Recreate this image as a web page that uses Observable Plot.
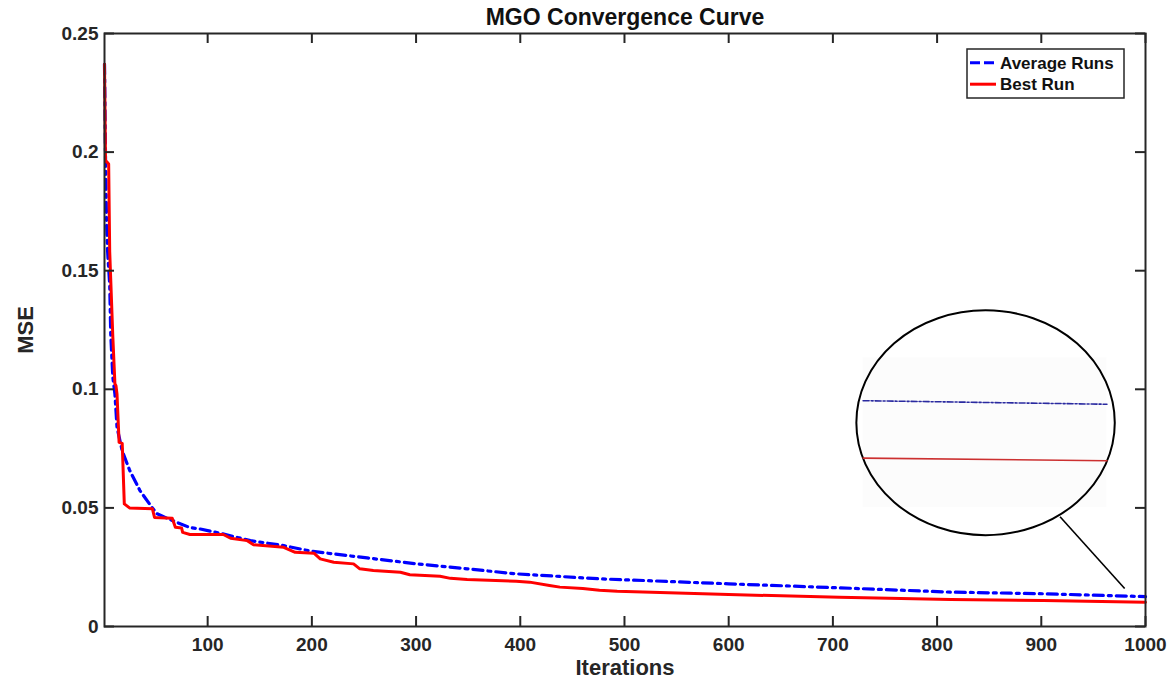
<!DOCTYPE html>
<html>
<head>
<meta charset="utf-8">
<script src="https://cdn.jsdelivr.net/npm/d3@7"></script>
<script src="https://cdn.jsdelivr.net/npm/@observablehq/plot@0.6"></script>
<style>
  body { margin: 0; background: #fff; }
  #chart svg { font-family: "Liberation Sans", Arial, Helvetica, sans-serif; }
</style>
</head>
<body>
<div id="chart"></div>
<script>
// ---- Text ----
const title = "MGO Convergence Curve";
const xLabel = "Iterations";
const yLabel = "MSE";
const seriesNames = ["Average Runs", "Best Run"];

// ---- Ticks ----
const xTicks = [100, 200, 300, 400, 500, 600, 700, 800, 900, 1000];
const yTicks = [0, 0.05, 0.1, 0.15, 0.2, 0.25];

// ---- Series: Average Runs (blue, dash-dot) ----
const avgX = [1, 2, 3, 4, 6, 7, 9, 11, 13, 18, 25, 35, 44, 51, 66, 83, 93, 112, 141, 173, 200, 253, 301, 349, 396, 476, 600, 706, 813, 902, 1000];
const avgY = [0.237, 0.197, 0.170, 0.158, 0.144, 0.123, 0.105, 0.098, 0.084, 0.074, 0.066, 0.0573, 0.0518, 0.0476, 0.0447, 0.0417, 0.0411, 0.0393, 0.0362, 0.0341, 0.0317, 0.0289, 0.0264, 0.0243, 0.0222, 0.0201, 0.0180, 0.0163, 0.0145, 0.0138, 0.0126];

// ---- Series: Best Run (red, solid) ----
const bestX = [1, 2, 3, 5, 6, 9, 11, 12, 13, 15, 18, 20, 25, 47, 49, 66, 69, 75, 76, 83, 115, 122, 138, 144, 173, 184, 202, 208, 221, 240, 246, 259, 285, 294, 323, 333, 349, 396, 409, 428, 438, 460, 476, 493, 600, 706, 813, 902, 1000];
const bestY = [0.237, 0.196, 0.196, 0.195, 0.158, 0.122, 0.1023, 0.1015, 0.098, 0.0776, 0.0772, 0.0517, 0.0500, 0.0496, 0.0460, 0.0456, 0.0418, 0.0415, 0.0397, 0.0388, 0.0388, 0.0372, 0.0362, 0.0345, 0.0334, 0.0313, 0.0309, 0.0285, 0.0271, 0.0264, 0.0243, 0.0236, 0.0229, 0.0218, 0.0212, 0.0203, 0.0198, 0.0191, 0.0187, 0.0173, 0.0166, 0.0160, 0.0153, 0.0149, 0.0135, 0.0123, 0.0114, 0.0110, 0.0102];

// ---- Zoom inset annotation (data coordinates) ----
const insetCenterX = 847, insetCenterY = 0.0857;
const insetRadiusX = 124, insetRadiusY = 0.0474;
const insetBoxX = [729, 963];
const insetBoxY = [0.0501, 0.1133];
const insetAvgY = [0.0952, 0.0937];
const insetBestY = [0.0710, 0.0699];
const connectorX = [918, 980];
const connectorY = [0.0463, 0.0160];

// ---- Build tables ----
const avgData = avgX.map((x, i) => ({x, y: avgY[i]}));
const bestData = bestX.map((x, i) => ({x, y: bestY[i]}));
const insetAvg = insetBoxX.map((x, i) => ({x, y: insetAvgY[i]}));
const insetBest = insetBoxX.map((x, i) => ({x, y: insetBestY[i]}));

const W = 1171, H = 680;
const mL = 104, mR = 26, mT = 33, mB = 54;
const innerW = W - mL - mR, innerH = H - mT - mB;
const ink = "#262626";
const tickLen = 10;

function ellipseMark(index, scales) {
  const {x, y} = scales;
  const cx = x(insetCenterX), cy = y(insetCenterY);
  const rx = Math.abs(x(insetCenterX + insetRadiusX) - cx);
  const ry = Math.abs(y(insetCenterY + insetRadiusY) - cy);
  const e = document.createElementNS("http://www.w3.org/2000/svg", "ellipse");
  e.setAttribute("cx", cx); e.setAttribute("cy", cy);
  e.setAttribute("rx", rx); e.setAttribute("ry", ry);
  e.setAttribute("fill", "none");
  e.setAttribute("stroke", "#000");
  e.setAttribute("stroke-width", 2);
  return e;
}

function legendMark(index, scales, values, dims) {
  const bw = 157, bh = 49;
  const x0 = dims.width - dims.marginRight - 21 - bw;
  const y0 = dims.marginTop + 16;
  const g = d3.create("svg:g");
  g.append("rect").attr("x", x0).attr("y", y0).attr("width", bw).attr("height", bh)
    .attr("fill", "white").attr("stroke", ink).attr("stroke-width", 1.5);
  const colors = ["#0000ff", "#ff0000"];
  const dashes = ["10,4", null];
  seriesNames.forEach((name, i) => {
    const yy = y0 + 13.7 + i * 21.5;
    const ln = g.append("line").attr("x1", x0 + 3).attr("x2", x0 + 29).attr("y1", yy).attr("y2", yy)
      .attr("stroke", colors[i]).attr("stroke-width", 3);
    if (dashes[i]) ln.attr("stroke-dasharray", dashes[i]);
    g.append("text").attr("x", x0 + 33).attr("y", yy).attr("dy", "0.35em")
      .attr("text-anchor", "start")
      .attr("font-size", 17).attr("font-weight", "bold").attr("fill", "#111").text(name);
  });
  return g.node();
}

const chart = Plot.plot({
  width: W, height: H,
  marginLeft: mL, marginRight: mR, marginTop: mT, marginBottom: mB,
  x: {domain: [1, 1000]},
  y: {domain: [0, 0.25]},
  style: {background: "white", color: ink, fontFamily: "'Liberation Sans', Arial, sans-serif", overflow: "visible"},
  marks: [
    // inset background + ellipse
    Plot.rect([0], {x1: insetBoxX[0], x2: insetBoxX[1], y1: insetBoxY[0], y2: insetBoxY[1], fill: "#fcfcfc"}),
    ellipseMark,
    Plot.line(insetAvg, {x: "x", y: "y", stroke: "#2a2aa0", strokeWidth: 1.6, strokeDasharray: "6,2,2,2"}),
    Plot.line(insetBest, {x: "x", y: "y", stroke: "#cc3030", strokeWidth: 1.6}),
    Plot.link([0], {x1: connectorX[0], y1: connectorY[0], x2: connectorX[1], y2: connectorY[1], stroke: "#000", strokeWidth: 1.6}),
    // data
    Plot.line(avgData, {x: "x", y: "y", stroke: "#0000ff", strokeWidth: 3.2, strokeDasharray: "10,5,3,5"}),
    Plot.line(bestData, {x: "x", y: "y", stroke: "#ff0000", strokeWidth: 3}),
    // frame and inward ticks
    Plot.frame({stroke: ink, strokeWidth: 2}),
    Plot.tickX(xTicks, {x: d => d, insetTop: innerH - tickLen, stroke: ink, strokeWidth: 2}),
    Plot.tickX(xTicks, {x: d => d, insetBottom: innerH - tickLen, stroke: ink, strokeWidth: 2}),
    Plot.tickY(yTicks, {y: d => d, insetRight: innerW - tickLen, stroke: ink, strokeWidth: 2}),
    Plot.tickY(yTicks, {y: d => d, insetLeft: innerW - tickLen, stroke: ink, strokeWidth: 2}),
    // axes labels
    Plot.axisX(xTicks, {tickSize: 0, tickPadding: 11, tickFormat: d => String(d), fontSize: 19, fontWeight: "bold", fill: ink, label: null}),
    Plot.axisY(yTicks, {tickSize: 0, tickPadding: 6, tickFormat: d => String(d), fontSize: 19, fontWeight: "bold", fill: ink, label: null}),
    Plot.text([xLabel], {frameAnchor: "bottom", dy: 41, lineAnchor: "middle", textAnchor: "middle", fontSize: 22, fontWeight: "bold", fill: ink}),
    Plot.text([yLabel], {frameAnchor: "left", dx: -79, rotate: -90, lineAnchor: "middle", textAnchor: "middle", fontSize: 22, fontWeight: "bold", fill: ink}),
    Plot.text([title], {frameAnchor: "top", dy: -16, lineAnchor: "middle", textAnchor: "middle", fontSize: 23, fontWeight: "bold", fill: "#111"}),
    legendMark
  ]
});
document.getElementById("chart").appendChild(chart);
</script>
</body>
</html>
